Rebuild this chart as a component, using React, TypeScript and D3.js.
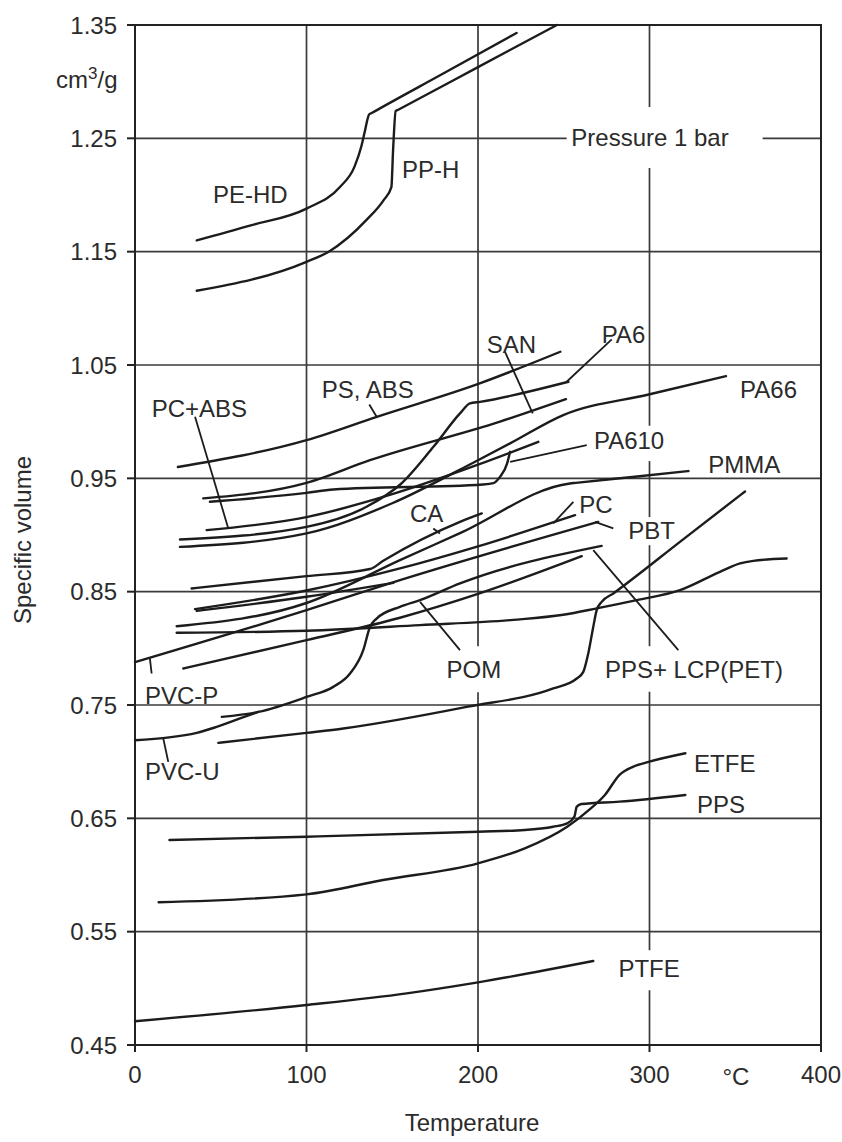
import React, { useEffect } from "react";
import * as d3 from "d3";

type Pt = [number, number];

// temperature (°C) / specific volume (cm³/g)
const xTicks = [0, 100, 200, 300, 400];
const yTicks = [0.45, 0.55, 0.65, 0.75, 0.85, 0.95, 1.05, 1.15, 1.25, 1.35];
const gridX = [100, 200, 300];
const gridY = [0.55, 0.65, 0.75, 0.85, 0.95, 1.05, 1.15, 1.25];

const peHd: Pt[] = [[36, 1.16], [67, 1.173], [100, 1.188], [119.5, 1.207], [128, 1.225], [132, 1.243], [134, 1.256], [136.5, 1.271], [138, 1.2723], [180, 1.3074], [222.5, 1.343]];
const ppH: Pt[] = [[36, 1.1155], [100, 1.141], [113, 1.15], [135, 1.178], [145, 1.1955], [149.5, 1.207], [150.5, 1.24], [152, 1.274], [153.5, 1.2752], [200, 1.3128], [246, 1.35]];

const psAbs: Pt[] = [[25, 0.96], [100, 0.9837], [141, 1.0043], [201, 1.0338], [248, 1.0617]];
const san: Pt[] = [[39.8, 0.9323], [100, 0.946], [137, 0.966], [212.8, 1.0], [251.3, 1.0199]];
const pa610: Pt[] = [[43.7, 0.9293], [100, 0.9372], [115.6, 0.9402], [203, 0.9446], [209, 0.9458], [212.8, 0.9513], [217, 0.9632], [218.7, 0.9734]];
const pcAbs: Pt[] = [[41.8, 0.9043], [100, 0.9158], [150, 0.936], [200, 0.962], [235.2, 0.9822]];
const pa6: Pt[] = [[26.2, 0.896], [100, 0.9072], [135, 0.9249], [155, 0.945], [174, 0.9778], [189.5, 1.0073], [195.3, 1.0161], [201.2, 1.0175], [252.7, 1.0352]];
const pa66: Pt[] = [[26.2, 0.8895], [100, 0.9014], [150, 0.928], [200, 0.966], [218.7, 0.9808], [249.7, 1.0058], [299.5, 1.024], [344.6, 1.0402]];

const ca: Pt[] = [[33, 0.8528], [100, 0.8637], [137, 0.87], [145, 0.8775], [189.5, 0.9116], [202.2, 0.919]];
const pc: Pt[] = [[35, 0.8346], [100, 0.851], [154.5, 0.8705], [200, 0.89], [256.6, 0.9175]];
const shortLine: Pt[] = [[36, 0.833], [100, 0.8455], [150.6, 0.8578]];
const pmma: Pt[] = [[24.3, 0.8195], [100, 0.84], [154.5, 0.8778], [189.5, 0.9016], [253.6, 0.9455], [257, 0.946], [290, 0.9512], [322.7, 0.9564]];
const flatLine: Pt[] = [[24.3, 0.8137], [100, 0.8155], [166.2, 0.8205], [220.6, 0.8251], [249.7, 0.8296], [269.2, 0.8352], [292.5, 0.8425], [317.8, 0.8513], [341.1, 0.8675], [352.8, 0.8749], [360.5, 0.8772], [380, 0.8793]];
const pvcP: Pt[] = [[0, 0.7878], [100, 0.8337], [154.5, 0.8602], [270.1, 0.9116]];
const pbt: Pt[] = [[28.2, 0.7822], [100, 0.8072], [154.5, 0.827], [200, 0.848], [260.5, 0.8813]];
const pom: Pt[] = [[50.6, 0.7395], [71.9, 0.7439], [100, 0.7571], [115.6, 0.766], [125.4, 0.7778], [133.1, 0.7984], [137, 0.8189], [140.9, 0.8263], [154.5, 0.8366], [166.2, 0.8425], [189.5, 0.8573], [272.1, 0.8904]];
const pvcU: Pt[] = [[0, 0.7189], [36, 0.7254], [47.6, 0.7307], [61.2, 0.7381], [71.9, 0.7439]];
const ppsLcp: Pt[] = [[48.6, 0.7166], [100, 0.7254], [121.5, 0.7293], [193.4, 0.7483], [243.9, 0.7646], [257.6, 0.7734], [261.4, 0.7792], [264.3, 0.7955], [267.2, 0.8189], [269.2, 0.8337], [272.1, 0.841], [278.9, 0.8484], [320, 0.8966], [355.7, 0.9384]];

const pps: Pt[] = [[20.1, 0.6309], [100, 0.6338], [200, 0.6382], [227.3, 0.6397], [243.8, 0.6426], [252, 0.6456], [256.2, 0.6515], [257.6, 0.6603], [260.3, 0.6626], [282.4, 0.6647], [320.9, 0.6706]];
const etfe: Pt[] = [[13.8, 0.5759], [100, 0.5829], [144.6, 0.5956], [200, 0.6103], [227.3, 0.6235], [252, 0.6426], [265.8, 0.6588], [274, 0.6706], [282.4, 0.6882], [290.6, 0.6956], [300, 0.7], [320.9, 0.7074]];
const ptfe: Pt[] = [[0, 0.471], [100, 0.4853], [158.4, 0.4956], [200, 0.5053], [267.2, 0.5241]];

const curves: Pt[][] = [peHd, ppH, psAbs, san, pa610, pcAbs, pa6, pa66, ca, pc, shortLine, pmma, flatLine, pvcP, pbt, pom, pvcU, ppsLcp, pps, etfe, ptfe];

// label text, T, V (baseline), anchor
const labels: [string, number, number, string][] = [
  ["PE-HD", 45.5, 1.1929, "start"],
  ["PP-H", 155.7, 1.215, "start"],
  ["Pressure 1 bar", 300.3, 1.2432, "middle"],
  ["PS, ABS", 108.9, 1.0205, "start"],
  ["PC+ABS", 9.7, 1.0043, "start"],
  ["SAN", 205.1, 1.0602, "start"],
  ["PA6", 272.1, 1.0696, "start"],
  ["PA66", 352.8, 1.0205, "start"],
  ["PA610", 267.6, 0.9755, "start"],
  ["PMMA", 334.3, 0.9543, "start"],
  ["CA", 160.3, 0.9116, "start"],
  ["PC", 259.1, 0.9196, "start"],
  ["PBT", 287.6, 0.8969, "start"],
  ["POM", 181.7, 0.7734, "start"],
  ["PPS+ LCP(PET)", 274, 0.7734, "start"],
  ["PVC-P", 5.8, 0.7513, "start"],
  ["PVC-U", 5.8, 0.6836, "start"],
  ["ETFE", 326, 0.6913, "start"],
  ["PPS", 327.7, 0.6545, "start"],
  ["PTFE", 281.9, 0.5104, "start"],
];

const leaders: [Pt, Pt][] = [
  [[136.6, 1.0152], [140.9, 1.0043]],
  [[35, 1.0043], [54.4, 0.9058]],
  [[215.7, 1.0617], [231.9, 1.0073]],
  [[278, 1.0726], [251.7, 1.0352]],
  [[263.4, 0.9793], [218.7, 0.9646]],
  [[255.6, 0.9293], [243.9, 0.9102]],
  [[278.9, 0.9058], [268.2, 0.9116]],
  [[173.9, 0.9058], [177.8, 0.9014]],
  [[166.2, 0.841], [189.5, 0.7984]],
  [[267.2, 0.8866], [316.8, 0.7984]],
  [[8.7, 0.791], [9.7, 0.7778]],
  [[16.5, 0.7204], [19.4, 0.6998]],
];

// breaks in the grid behind labels
const gapsX: [number, number, number][] = [
  [300, 1.2238, 1.2776],
  [300, 0.9652, 0.9963],
  [300, 0.891, 0.9158],
  [300, 0.7616, 0.8019],
  [300, 0.4983, 0.5336],
  [200, 0.7613, 0.8019],
];
const gapsY: [number, number, number][] = [[1.25, 251.7, 366]];

const split = (lo: number, hi: number, gaps: [number, number][]): [number, number][] => {
  const out: [number, number][] = [];
  let s = lo;
  gaps.sort((a, b) => a[0] - b[0]).forEach(([a, b]) => {
    out.push([s, a]);
    s = b;
  });
  out.push([s, hi]);
  return out;
};

const font = "'Liberation Sans', Arial, Helvetica, sans-serif";
const ink = "#1c1c1c";
const textInk = "#2b2b2b";

const App: React.FC = () => {
  useEffect(() => {
    document.body.style.margin = "0";
  }, []);

  const width = 842;
  const height = 1142;
  const x = d3.scaleLinear().domain([0, 400]).range([135, 821]);
  const y = d3.scaleLinear().domain([0.45, 1.35]).range([1045, 25]);

  const line = d3
    .line<Pt>()
    .x((d) => x(d[0]))
    .y((d) => y(d[1]))
    .curve(d3.curveMonotoneX);

  return (
    <svg width={width} height={height} style={{ display: "block", background: "#fff" }} fontFamily={font}>
      {/* grid */}
      <g stroke="#3a3a3a" strokeWidth={1.7}>
        {gridX.map((t) =>
          split(0.45, 1.35, gapsX.filter((g) => g[0] === t).map((g) => [g[1], g[2]] as [number, number])).map(([a, b], i) => (
            <line key={`gx${t}-${i}`} x1={x(t)} x2={x(t)} y1={y(a)} y2={y(b)} />
          ))
        )}
        {gridY.map((v) =>
          split(0, 400, gapsY.filter((g) => g[0] === v).map((g) => [g[1], g[2]] as [number, number])).map(([a, b], i) => (
            <line key={`gy${v}-${i}`} x1={x(a)} x2={x(b)} y1={y(v)} y2={y(v)} />
          ))
        )}
      </g>

      {/* frame and ticks */}
      <g stroke="#222" strokeWidth={2}>
        <rect x={x(0)} y={y(1.35)} width={x(400) - x(0)} height={y(0.45) - y(1.35)} fill="none" />
        {yTicks.map((v) => (
          <line key={`ty${v}`} x1={x(0) - 8} x2={x(0)} y1={y(v)} y2={y(v)} />
        ))}
        {xTicks.map((t) => (
          <line key={`tx${t}`} x1={x(t)} x2={x(t)} y1={y(0.45)} y2={y(0.45) + 7} />
        ))}
      </g>

      <g fill={textInk} fontSize={24}>
        {yTicks.map((v) => (
          <text key={`ly${v}`} x={x(0) - 18} y={y(v) + 8.5} textAnchor="end">
            {v.toFixed(2)}
          </text>
        ))}
        {xTicks.map((t) => (
          <text key={`lx${t}`} x={x(t)} y={1083} textAnchor="middle">
            {t}
          </text>
        ))}
        <text x={x(350.4)} y={1085} textAnchor="middle">°C</text>
        <text x={472} y={1131} textAnchor="middle">Temperature</text>
        <text transform="translate(31,540) rotate(-90)" textAnchor="middle">Specific volume</text>
        <text x={56} y={88}>
          cm<tspan fontSize={17} dy={-9}>3</tspan>
          <tspan dy={9}>/g</tspan>
        </text>
      </g>

      {/* curves */}
      <g fill="none" stroke={ink} strokeWidth={2.4} strokeLinejoin="round" strokeLinecap="round">
        {curves.map((c, i) => (
          <path key={`c${i}`} d={line(c) || ""} />
        ))}
      </g>

      {/* leaders */}
      <g stroke={ink} strokeWidth={1.8}>
        {leaders.map(([a, b], i) => (
          <line key={`ld${i}`} x1={x(a[0])} y1={y(a[1])} x2={x(b[0])} y2={y(b[1])} />
        ))}
      </g>

      <g fill={textInk} fontSize={24}>
        {labels.map(([txt, t, v, anchor]) => (
          <text key={txt} x={x(t)} y={y(v)} textAnchor={anchor as any}>
            {txt}
          </text>
        ))}
      </g>
    </svg>
  );
};

export default App;
